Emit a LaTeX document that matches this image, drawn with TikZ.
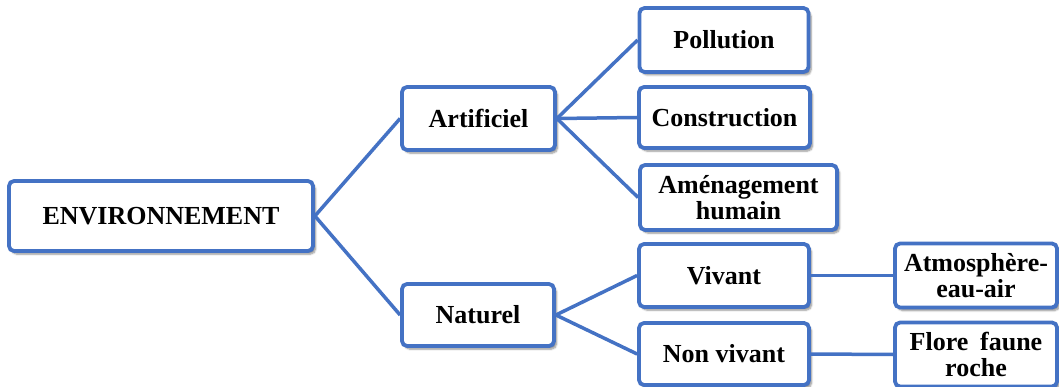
\documentclass[tikz,border=0pt]{standalone}
\usepackage{fontspec}
\setmainfont{Liberation Serif}
\usetikzlibrary{shadows.blur}
\definecolor{boxblue}{HTML}{4472C4}
\tikzset{
  box/.style={draw=boxblue, line width=3.8pt, rounded corners=5pt, fill=white,
    blur shadow={shadow xshift=2.5pt, shadow yshift=-3pt, shadow blur steps=6, shadow opacity=45},
    inner sep=0pt, align=center, font=\fontsize{26}{26}\selectfont\bfseries},
  link/.style={draw=boxblue, line width=3.5pt}
}
\begin{document}
\begin{tikzpicture}[x=1pt,y=-1pt]
\useasboundingbox (0,0) rectangle (1059,387);
% nodes
\node[box, minimum width=304pt, minimum height=70pt] (env) at (161,216) {ENVIRONNEMENT};
\node[box, minimum width=153pt, minimum height=63pt] (art) at (478.5,118.5) {Artificiel};
\node[box, minimum width=152pt, minimum height=62pt] (nat) at (478,315) {Naturel};
\node[box, minimum width=169pt, minimum height=64pt] (pol) at (724,40) {Pollution};
\node[box, minimum width=171pt, minimum height=61pt] (con) at (724.5,117.5) {Construction};
\node[box, minimum width=197pt, minimum height=65pt] (ame) at (738.5,197.5) {Aménagement\\humain};
\node[box, minimum width=170pt, minimum height=63pt] (viv) at (724,275.5) {Vivant};
\node[box, minimum width=170pt, minimum height=62pt] (nv) at (724,354) {Non vivant};
\node[box, minimum width=162pt, minimum height=64pt] (atm) at (976,275.5) {Atmosphère-\\eau-air};
\node[box, minimum width=162pt, minimum height=64pt] (flo) at (976,354.5) {Flore\hspace{0.45em}faune\\roche};
% connectors
\draw[link] (env.east) -- (art.west);
\draw[link] (env.east) -- (nat.west);
\draw[link] (art.east) -- (pol.west);
\draw[link] (art.east) -- (con.west);
\draw[link] (art.east) -- (ame.west);
\draw[link] (nat.east) -- (viv.west);
\draw[link] (nat.east) -- (nv.west);
\draw[link] (viv.east) -- (atm.west);
\draw[link] (nv.east) -- (flo.west);
\end{tikzpicture}
\end{document}
